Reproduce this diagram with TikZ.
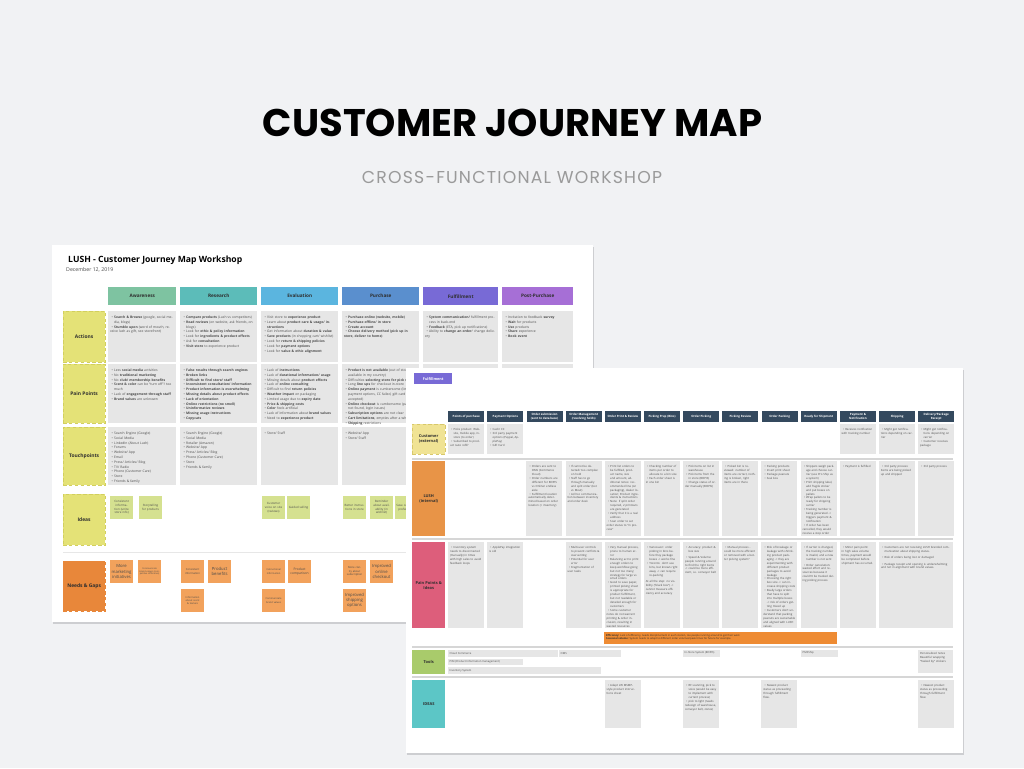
\documentclass[tikz,border=0pt]{standalone}
\usepackage{fontspec}
\setmainfont{Open Sans}
\newfontfamily\pop{Poppins}
\newfontfamily\popl{Poppins}[LetterSpace=7]
\usepackage{graphicx}
\definecolor{bgc}{HTML}{F1F2F4}
\definecolor{shc}{HTML}{CDCED1}
\definecolor{cellc}{HTML}{E6E6E6}
\definecolor{txc}{HTML}{4A4A4A}
\definecolor{hdc}{HTML}{2E2E2E}
\definecolor{awc}{HTML}{7EC3A1}
\definecolor{rec}{HTML}{5CBCB9}
\definecolor{evc}{HTML}{5BB5DF}
\definecolor{puc}{HTML}{5A8FCE}
\definecolor{fuc}{HTML}{786AD6}
\definecolor{poc}{HTML}{A66FD6}
\definecolor{ylc}{HTML}{E4E277}
\definecolor{ylb}{HTML}{D2CF5E}
\definecolor{ngc}{HTML}{E8873A}
\definecolor{stg}{HTML}{D5E190}
\definecolor{sto}{HTML}{F2A25C}
\definecolor{navc}{HTML}{34495E}
\definecolor{cuc}{HTML}{F0E394}
\definecolor{cub}{HTML}{D8C86A}
\definecolor{luc}{HTML}{E89447}
\definecolor{pac}{HTML}{DD5E7B}
\definecolor{toc}{HTML}{A9CB6B}
\definecolor{idc}{HTML}{5CC6C6}
\definecolor{obc}{HTML}{EE8B33}
\definecolor{sepc}{HTML}{D6D6D6}
\definecolor{subc}{HTML}{9A9A9A}
\newlength\pxu \setlength\pxu{0.3mm}
\newcommand\bi{\par\hangindent=1.25em\hangafter=1\noindent\hspace*{0.45em}\makebox[0.8em][l]{\textbullet}}
\newcommand\cellbox[6]{%
  \fill[cellc] (#2,#3) rectangle ++(#4,#5);
  \node[#1, text width={(#4-4)*0.3mm}] at ({#2+1.8},{#3+2.4}) {#6};}
\newcommand\pcell[4]{%
  \pgfmathsetmacro\pcx{448+39.17*#1}%
  \cellbox{tb}{\pcx}{#2}{36}{#3}{#4}}
\newcommand\sticky[5]{%
  \node[fill=#1, anchor=north west, minimum width=6.8mm, minimum height=6.8mm, text width=6.2mm, inner sep=0.2mm, align=center, text=txc, font=\fontsize{#4}{\dimexpr#4pt*5/4\relax}\selectfont] at (#2,#3) {#5};}
\newcommand\toolbar[5]{% x y w h text
  \fill[cellc] (#1,#2) rectangle ++(#3,#4);
  \node[anchor=west, inner sep=0, text=txc, font=\fontsize{2.3}{2.9}\selectfont] at ({#1+1.5},{#2+#4/2}) {#5};}
\begin{document}
\begin{tikzpicture}[x=0.3mm,y=-0.3mm,
  ta/.style={anchor=north west, inner sep=0, align=left, text=txc, font=\fontsize{2.85}{4.1}\selectfont},
  tb/.style={anchor=north west, inner sep=0, align=left, text=txc, font=\fontsize{2.4}{3.35}\selectfont},
  phase/.style={anchor=north west, minimum height=18*0.3mm, inner sep=0, font=\fontsize{4}{5}\bfseries\selectfont, text=hdc},
  rowlab/.style={anchor=north west, fill=ylc, draw=ylb, densely dashed, line width=0.2pt, minimum width=42*0.3mm, inner sep=0, font=\fontsize{4.2}{5}\bfseries\selectfont, text=hdc},
  navh/.style={anchor=north west, fill=navc, minimum width=36*0.3mm, minimum height=11*0.3mm, inner sep=0, align=center, text=white, font=\fontsize{2.5}{3.1}\bfseries\selectfont},
  lab2/.style={anchor=north west, minimum width=33*0.3mm, inner sep=0, align=center, text=hdc, font=\fontsize{3.4}{4.3}\bfseries\selectfont}
]
\useasboundingbox (0,0) rectangle (1024,768);
\fill[bgc] (0,0) rectangle (1024,768);

% ---------- titles ----------
\node[anchor=base, inner sep=0] (title) at (512.5,136) {\resizebox{499\pxu}{!}{\pop\bfseries CUSTOMER JOURNEY MAP}};
\node[anchor=base, inner sep=0, text=subc] (subtitle) at (512,183) {\resizebox{300\pxu}{!}{\popl CROSS-FUNCTIONAL WORKSHOP}};

% ---------- panel 1 ----------
\fill[shc] (53,247) rectangle (594,624);
\fill[white] (52,245) rectangle (593,622);
\node[anchor=base west, inner sep=0, text=black] (p1title) at (68,262) {\resizebox{174\pxu}{!}{\bfseries LUSH - Customer Journey Map Workshop}};
\node[anchor=base west, inner sep=0, text=txc] (p1date) at (66,271) {\resizebox{47\pxu}{!}{December 12, 2019}};

\node[phase, fill=awc, minimum width=68*0.3mm] (awa) at (108,287) {Awareness};
\node[phase, fill=rec, minimum width=77*0.3mm] (res) at (180,287) {Research};
\node[phase, fill=evc, minimum width=77*0.3mm] (eva) at (261,287) {Evaluation};
\node[phase, fill=puc, minimum width=77*0.3mm] (pur) at (342,287) {Purchase};
\node[phase, fill=fuc, minimum width=75*0.3mm] (ful) at (423,287) {Fulfillment};
\node[phase, fill=poc, minimum width=71*0.3mm] (pos) at (502,287) {Post-Purchase};

\node[rowlab, minimum height=51*0.3mm] (lact) at (63,311) {Actions};
\node[rowlab, minimum height=59*0.3mm] (lpain) at (63,364) {Pain Points};
\node[rowlab, minimum height=58*0.3mm] (ltouch) at (63,427) {Touchpoints};
\node[rowlab, minimum height=51*0.3mm] (lideas) at (63,494) {Ideas};
\node[rowlab, fill=ngc, draw=ngc, minimum height=50*0.3mm] (lneeds) at (63,561) {Needs \& Gaps};
\draw[sepc!60, line width=0.3pt] (63,552) -- (593,552);

% Actions
\cellbox{ta}{108}{311}{68}{51}{\bi\textbf{Search \& Browse} (google, social media, blogs)\bi\textbf{Stumble upon} (word of mouth, receive lush as gift, see storefront)}
\cellbox{ta}{180}{311}{77}{51}{\bi\textbf{Compare products} (Lush vs competitors)\bi\textbf{Read reviews} (on website, ask friends, on blogs)\bi Look for \textbf{ethic \& policy information}\bi Look for \textbf{ingredients \& product effects}\bi Ask for \textbf{consultation}\bi\textbf{Visit store} to experience product}
\cellbox{ta}{261}{311}{77}{51}{\bi Visit store to \textbf{experience product}\bi Learn about \textbf{product care \& usage/ instructions}\bi Get information about \textbf{duration \& value}\bi\textbf{Save products} (in shopping cart/ wishlist)\bi Look for \textbf{return \& shipping policies}\bi Look for \textbf{payment options}\bi Look for \textbf{value \& ethic alignment}}
\cellbox{ta}{342}{311}{77}{51}{\bi\textbf{Purchase online (website, mobile)}\bi\textbf{Purchase offline/ in store}\bi\textbf{Create account}\bi\textbf{Choose delivery method (pick up in store, deliver to home)}}
\cellbox{ta}{423}{311}{75}{51}{\bi\textbf{System communication/} fulfillment process in back-end\bi\textbf{Feedback} (ETA, pick up notifications)\bi Ability to \textbf{change an order}/ change delivery}
\cellbox{ta}{502}{311}{71}{51}{\bi Invitation to feedback \textbf{survey}\bi\textbf{Wait} for products\bi\textbf{Use} products\bi\textbf{Share} experience\bi\textbf{Book event}}

% Pain points
\cellbox{ta}{108}{364}{68}{59}{\bi Less \textbf{social media} activities\bi No \textbf{traditional marketing}\bi No \textbf{club/ membership benefits}\bi\textbf{Scent \& color} can be ``turn off''/ too much\bi Lack of \textbf{engagement through staff}\bi\textbf{Brand values} are unknown}
\cellbox{ta}{180}{364}{77}{59}{\bi\textbf{False results through search engines}\bi\textbf{Broken links}\bi\textbf{Difficult to find store/ staff}\bi\textbf{Inconsistent consultation/ information}\bi\textbf{Product information is overwhelming}\bi\textbf{Missing details about product effects}\bi\textbf{Lack of orientation}\bi\textbf{Online restrictions (no smell)}\bi\textbf{Uninformative reviews}\bi\textbf{Missing usage instructions}\bi\textbf{Copycats}}
\cellbox{ta}{261}{364}{77}{59}{\bi Lack of \textbf{instructions}\bi Lack of \textbf{durational information/ usage}\bi Missing details about \textbf{product effects}\bi Lack of \textbf{online consulting}\bi Difficult to find \textbf{return policies}\bi\textbf{Weather impact} on packaging\bi Limited usage due to \textbf{expiry date}\bi\textbf{Price \& shipping costs}\bi\textbf{Color} feels artificial\bi Lack of information about \textbf{brand values}\bi Need to \textbf{experience product}}
\cellbox{ta}{342}{364}{77}{59}{\bi\textbf{Product is not available} (out of stock/ not available in my country)\bi Difficulties \textbf{selecting store for pick up}\bi Long \textbf{line ups} for checkout in-store\bi\textbf{Online payment} is cumbersome (limited payment options, CC failed, gift card not accepted)\bi\textbf{Online checkout} is cumbersome (page not found, login issues)\bi\textbf{Subscription options} are not clear\bi\textbf{Cart limitations}, empties after a while\bi\textbf{Shipping} restrictions}
\cellbox{ta}{423}{364}{75}{59}{\bi Limited \textbf{feedback/ notifications}}
\cellbox{ta}{502}{364}{71}{59}{\bi Item \textbf{not available for re-buy}}

% Touchpoints
\cellbox{ta}{108}{427}{68}{58}{\bi Search Engine (Google)\bi Social Media\bi LinkedIn (About Lush)\bi Forums\bi Website/ App\bi Email\bi Press/ Articles/ Blog\bi TV/ Radio\bi Phone (Customer Care)\bi Store\bi Friends \& family}
\cellbox{ta}{180}{427}{77}{58}{\bi Search Engine (Google)\bi Social Media\bi Retailer (Amazon)\bi Website/ App\bi Press/ Articles/ Blog\bi Phone (Customer Care)\bi Store\bi Friends \& family}
\cellbox{ta}{261}{427}{77}{58}{\bi Store/ Staff}
\cellbox{ta}{342}{427}{77}{58}{\bi Website/ App\bi Store/ Staff}
\cellbox{ta}{423}{427}{75}{58}{}
\cellbox{ta}{502}{427}{71}{58}{}

% Ideas stickies
\sticky{stg}{110}{496}{2.5}{Consistent information (unite store info)}
\sticky{stg}{139}{496}{2.5}{Storytelling for products}
\sticky{stg}{262}{496}{2.5}{Customer voice on site (reviews)}
\sticky{stg}{287}{496}{2.5}{Guided selling}
\sticky{stg}{343}{496}{2.5}{Better instructions in store}
\sticky{stg}{370}{496}{2.5}{Reminder about availability (in wishlist)}
\sticky{stg}{395}{496}{2.5}{Save customer preferences}

% Needs stickies
\sticky{sto}{110}{560}{3.6}{More marketing initiatives}
\sticky{sto}{138}{560}{1.9}{Communicate brand values (competitive difference)}
\sticky{sto}{181}{560}{2.3}{Consistent information}
\sticky{sto}{208}{560}{3.6}{Product benefits}
\sticky{sto}{181}{589}{2.1}{Information about scent \& texture}
\sticky{sto}{262}{560}{2.1}{Instructional information}
\sticky{sto}{288}{560}{2.8}{Product comparison}
\sticky{sto}{262}{589}{2.1}{Communicate brand values}
\sticky{sto}{343}{560}{2.3}{More clarity about subscription}
\sticky{sto}{370}{560}{3.6}{Improved online checkout}
\sticky{sto}{343}{589}{3.6}{Improved shipping options}

% ---------- panel 2 ----------
\fill[shc] (407,370) rectangle (964,755);
\fill[white] (406,368) rectangle (963,753);
\node[anchor=north west, fill=fuc, minimum width=38*0.3mm, minimum height=11*0.3mm, inner sep=0, text=white, font=\fontsize{3.2}{4}\bfseries\selectfont] (ftag) at (414,373) {Fulfillment};

\foreach \i/\t in {0/{Points of purchase}, 1/{Payment Options}, 2/{Order submission\\(sent to data base)}, 3/{Order Management\\(resolving holds)}, 4/{Order Print \& Review}, 5/{Picking Prep (Bins)}, 6/{Order Picking}, 7/{Picking Review}, 8/{Order Packing}, 9/{Ready for Shipment}, 10/{Payment \&\\Notification}, 11/{Shipping}, 12/{Delivery/Package\\Receipt}}
  \node[navh] (h\i) at ({448+39.17*\i},411) {\t};

\node[lab2, fill=cuc, draw=cub, densely dashed, line width=0.2pt, minimum height=30*0.3mm] (lcust) at (412,424) {Customer\\(external)};
\node[lab2, fill=luc, minimum height=75*0.3mm] (llush) at (412,461) {LUSH\\(internal)};
\node[lab2, fill=pac, minimum height=86*0.3mm] (lpp) at (412,542) {Pain Points \&\\Ideas};
\node[lab2, fill=toc, minimum height=24*0.3mm] (ltools) at (412,650) {Tools};
\node[lab2, fill=idc, minimum height=48*0.3mm] (lidea2) at (412,680) {IDEAS};

\foreach \yy in {459,539,647,677}
  \draw[sepc, line width=1.1pt] (412,\yy) -- (953,\yy);

% customer row
\pcell{0}{424}{30}{\bi Picks product: Website, mobile app, in-store (to order)\bi Subscribed to product `auto refill'}
\pcell{1}{424}{30}{\bi Cash/ CC\bi 3rd party payment options (Paypal, ApplePay)\bi Gift Card}
\pcell{10}{424}{30}{\bi Receives notification with tracking number}
\pcell{11}{424}{30}{\bi Might get notifications depending on carrier}
\pcell{12}{424}{30}{\bi Might get notifications depending on carrier\bi Customer receives package}

% LUSH row
\pcell{2}{461}{75}{\bi Orders are sent to OMS (Commerce Cloud)\bi Order numbers are different for BOPIS vs Online/ endless aisle\bi Fulfillment location automatically determined based on order location (+ inventory)}
\pcell{3}{461}{75}{\bi If cannot be detected/ too complex: on hold\bi Staff has to go through manually and split order (bot vs Mout)\bi Ad hoc communication between inventory and order desk}
\pcell{4}{461}{75}{\bi Print list orders to be fulfilled, product name, size and amount, additional notes: recommended line (on packaging), dealer location; Product ingredients \& instructions\bi Note: if split order required, 2 printouts are generated\bi Verify that it is a real address\bi Scan order to set order status to ``in process''}
\pcell{5}{461}{75}{\bi Checking number of items per order to allocate to a bin size\bi Each order sheet is in one bin}
\pcell{6}{461}{75}{\bi Pick items on list in warehouse\bi Pick items from the in store (BOPIS)\bi Change status of order manually (BOPIS)}
\pcell{7}{461}{75}{\bi Picked bin is reviewed: number of items are correct, nothing is broken, right items are in there}
\pcell{8}{461}{75}{\bi Packing products\bi Insert print sheet\bi Package peanuts\bi Seal box}
\pcell{9}{461}{75}{\bi Shippers weigh package and choose carrier (use Pro Ship as a system)\bi Print shipping label, add fragile sticker and put boxes on pallets\bi Wrap pallets to be ready for shipping carrier\bi Tracking number is being generated -> triggers payment \& notification\bi If order has been cancelled, they would receive a stop order}
\pcell{10}{461}{75}{\bi Payment is fulfilled}
\pcell{11}{461}{75}{\bi 3rd party process: Items are being picked up and shipped}
\pcell{12}{461}{75}{\bi 3rd party process}

% Pain points & ideas row
\pcell{0}{542}{86}{\bi Inventory system needs to disconnected (manually) in times with high sales to avoid feedback loops}
\pcell{1}{542}{86}{\bi ApplePay integration is old}
\pcell{3}{542}{86}{\bi Multi-user controls to prevent conflicts \& over-writing\bi Potential for user error\bi Fragmentation of user tasks}
\pcell{4}{542}{86}{\bi Very manual process, prone to human error\bi Balancing act to print enough orders to keep workflow going but not too many; strategy for large vs small orders\bi Good to save paper, printed picking sheet is appropriate for product fulfillment, but not readable or detailed enough for customers\bi Some customer notes do not warrant printing \& order inclusion, resulting in wasted resources}
\pcell{5}{542}{86}{\bi Vancouver: order picking in bins before they package boxes -> works fine\bi Toronto: don't use bins, but known right away -> can require re-packing\par\vspace{2pt}\noindent At all the step: no visibility (``black box'') -> cannot measure efficiency and accuracy}
\pcell{6}{542}{86}{\bi Accuracy: product \& box size\par\vspace{1.5pt}\bi Speed \& Volume: people running around to find the right items -> could be more efficient, i.e. conveyor belt}
\pcell{7}{542}{86}{\bi Manual process - could be more efficient or removed with a better picking system?}
\pcell{8}{542}{86}{\bi Risk of breakage or leakage with shrinking product packaging -> they are experimenting with different product packages to avoid leakage\bi Choosing the right box size -> can increase shipping costs\bi Really large orders that have to split into multiple boxes -> risk of orders getting mixed up\bi Customers don't understand that packing peanuts are sustainable and aligned with LUSH values}
\pcell{9}{542}{86}{\bi If carrier is changed, the tracking number is invalid, and a new number is not sent\par\vspace{1.5pt}\bi Order cancelation: wasted effort and resources because it couldn't be tracked during picking process}
\pcell{10}{542}{86}{\bi Minor pain point: in high sales volume times, payment would be completed before shipment has occurred.}
\cellbox{tb}{879}{542}{74}{86}{\bi Customers are not receiving LUSH branded communication about shipping status.\par\vspace{2pt}\bi Risk of orders being lost or damaged\par\vspace{2pt}\bi Package receipt and opening is underwhelming and not in alignment with brand values.}

% orange bar
\fill[obc] (604,632) rectangle (837,644);
\node[anchor=north west, inner sep=0, align=left, text=hdc, font=\fontsize{2.2}{2.9}\selectfont] (obtext) at (606,634) {\textbf{Efficiency:} Lack of efficiency, needs disciplinement in each station, too people running around to get their work\\\textbf{Seasonal volume:} System needs to adapt to different order volumes/peak times for future for example.};

% tools
\toolbar{448}{650}{110}{6.5}{Cloud Commerce}
\toolbar{559}{650}{62}{6.5}{OMS}
\toolbar{683}{650}{37}{6.5}{In-Store System (BOPIS)}
\toolbar{801}{650}{37}{6.5}{PMSShip}
\toolbar{448}{659}{75}{6}{PIM (Product Information management)}
\toolbar{448}{667}{153}{7}{Inventory System}
\cellbox{tb}{918}{650}{35}{23}{Personalized notes\\Beautiful wrapping\\``Tasked by'' stickers}

% ideas row
\pcell{4}{680}{48}{\bi Adapt LW MSMP-style product instructions sheet}
\pcell{6}{680}{48}{\bi RF scanning, pick to voice (would be easy to implement with current process)\bi pick to light (needs redesign of warehouse, conveyor belt, zones)}
\pcell{8}{680}{48}{\bi Newest product status as proceeding through fulfillment flow.}
\pcell{12}{680}{48}{\bi Newest product status as proceeding through fulfillment flow.}
\end{tikzpicture}
\end{document}
